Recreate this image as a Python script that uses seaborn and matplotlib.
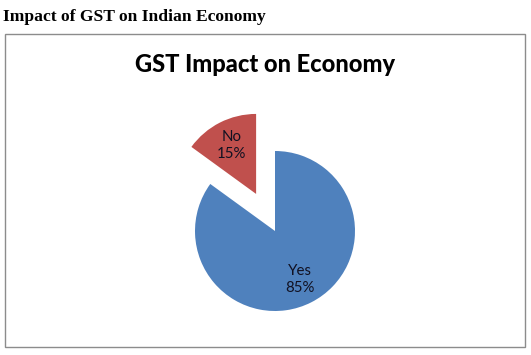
import matplotlib
matplotlib.use('Agg')
import matplotlib.pyplot as plt
import seaborn as sns
import numpy as np
from matplotlib.patches import Rectangle

# dados do gráfico
categorias = ['Yes', 'No']
valores = [85, 15]
cores = ['#4F81BD', '#C0504D']
destaque = [0, 0.52]
titulo = 'GST Impact on Economy'
cabecalho = 'Impact of GST on Indian Economy'

sns.set_style('white')

W, H = 531, 355
fig = plt.figure(figsize=(W / 100, H / 100), dpi=100)

# moldura do gráfico
fig.patches.append(Rectangle((5 / W, 8 / H), 520 / W, 313 / H, transform=fig.transFigure,
                             fill=False, edgecolor='#8c8c8c', linewidth=1.0))

fig.text(3 / W, 334 / H, cabecalho, family='Liberation Serif', weight='bold',
         fontsize=12.6, ha='left', va='baseline', color='black')
fig.text(265 / W, 283 / H, titulo, family='Lato', weight='black',
         fontsize=17, ha='center', va='baseline', color='black')

# eixo da pizza: 1 unidade = 80 px, centro em (275, 124)
r = 80
ax = fig.add_axes([(275 - 1.5 * r) / W, (124 - 1.5 * r) / H, 3 * r / W, 3.1 * r / H])

fatias, textos = ax.pie(valores, colors=cores, explode=destaque, startangle=90,
                        counterclock=False, radius=1, frame=False,
                        wedgeprops=dict(linewidth=0))
ax.set_xlim(-1.5, 1.5)
ax.set_ylim(-1.5, 1.6)
ax.set_aspect('equal')
ax.axis('off')

# rótulos dentro de cada fatia
for w, cat, v in zip(fatias, categorias, valores):
    ang = np.deg2rad((w.theta1 + w.theta2) / 2)
    cx, cy = w.center
    ax.text(cx + 0.68 * np.cos(ang), cy + 0.68 * np.sin(ang), f'{cat}\n{v}%',
            ha='center', va='center', family='Lato', fontsize=10.8, color='#111122',
            linespacing=1.2)

fig.savefig('out.png', dpi=100)
